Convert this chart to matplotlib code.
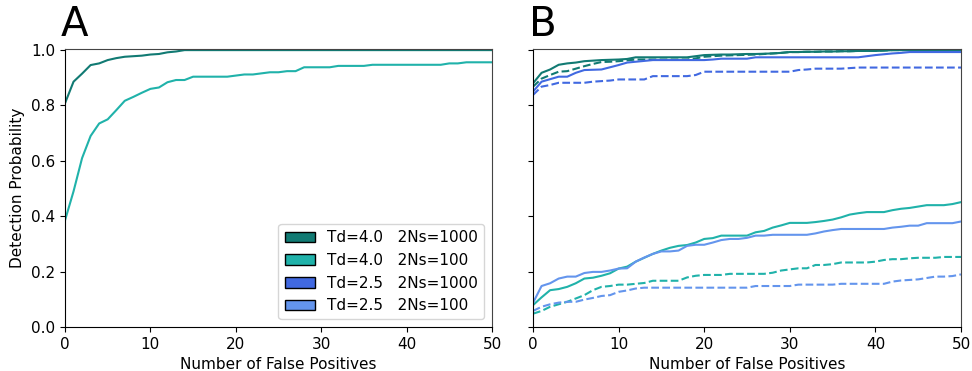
import numpy as np
import matplotlib
matplotlib.use("Agg")
import matplotlib.pyplot as plt
from matplotlib.patches import Patch

x = np.arange(51)

# Panel A
a_td4_1000 = [0.808, 0.886, 0.915, 0.946, 0.952, 0.964, 0.971, 0.976, 0.978, 0.980,
              0.984, 0.986, 0.992, 0.995] + [1.0] * 37
a_td4_100 = [0.385, 0.49, 0.61, 0.69, 0.735, 0.75, 0.783, 0.817, 0.831, 0.846,
             0.860, 0.865, 0.884, 0.892, 0.892, 0.904, 0.904, 0.904, 0.904, 0.904,
             0.908, 0.912, 0.912, 0.916, 0.920, 0.920, 0.924, 0.924, 0.938, 0.938,
             0.938, 0.938, 0.943, 0.943, 0.943, 0.943, 0.947, 0.947, 0.947, 0.947,
             0.947, 0.947, 0.947, 0.947, 0.947, 0.952, 0.952, 0.956, 0.956, 0.956, 0.956]

# Panel B - solid
b_td4_1000_s = [0.880, 0.918, 0.930, 0.947, 0.952, 0.955, 0.960, 0.962, 0.964, 0.965,
                0.966, 0.968, 0.974, 0.974, 0.974, 0.974, 0.974, 0.974, 0.974, 0.978,
                0.982, 0.983, 0.984, 0.984, 0.985, 0.986, 0.986, 0.987, 0.988, 0.990,
                0.993, 0.993, 0.994, 0.994, 0.995, 0.995, 0.996, 0.996, 0.997, 0.997,
                0.997, 0.998, 1.0, 1.0, 1.0, 1.0, 1.0, 1.0, 1.0, 1.0, 1.0]
b_td25_1000_s = [0.850, 0.886, 0.895, 0.904, 0.904, 0.918, 0.928, 0.929, 0.930, 0.938,
                 0.946, 0.955, 0.958, 0.961, 0.964, 0.964, 0.964, 0.964, 0.964, 0.964,
                 0.964, 0.966, 0.969, 0.969, 0.969, 0.969, 0.974, 0.974, 0.974, 0.974,
                 0.974, 0.974, 0.974, 0.974, 0.974, 0.974, 0.974, 0.974, 0.974, 0.978,
                 0.982, 0.985, 0.988, 0.990, 0.993, 0.993, 0.993, 0.993, 0.993, 0.993, 0.993]
b_td4_100_s = [0.079, 0.107, 0.133, 0.137, 0.145, 0.158, 0.175, 0.178, 0.185, 0.194,
               0.211, 0.218, 0.236, 0.250, 0.264, 0.276, 0.286, 0.293, 0.296, 0.305,
               0.318, 0.321, 0.330, 0.330, 0.330, 0.330, 0.342, 0.347, 0.359, 0.367,
               0.376, 0.376, 0.376, 0.379, 0.383, 0.388, 0.396, 0.406, 0.411, 0.415,
               0.415, 0.415, 0.422, 0.427, 0.430, 0.435, 0.440, 0.440, 0.440, 0.444, 0.451]
b_td25_100_s = [0.087, 0.148, 0.158, 0.175, 0.182, 0.182, 0.195, 0.199, 0.199, 0.204,
                0.211, 0.212, 0.236, 0.251, 0.264, 0.273, 0.273, 0.276, 0.293, 0.297,
                0.297, 0.305, 0.314, 0.318, 0.318, 0.322, 0.330, 0.330, 0.333, 0.333,
                0.333, 0.333, 0.333, 0.338, 0.345, 0.350, 0.354, 0.354, 0.354, 0.354,
                0.354, 0.354, 0.359, 0.362, 0.366, 0.366, 0.375, 0.375, 0.375, 0.375, 0.381]

# Panel B - dashed
b_td4_1000_d = [0.868, 0.897, 0.910, 0.922, 0.924, 0.933, 0.942, 0.950, 0.957, 0.958,
                0.960, 0.963, 0.966, 0.966, 0.966, 0.966, 0.966, 0.966, 0.966, 0.970,
                0.976, 0.978, 0.980, 0.981, 0.982, 0.983, 0.984, 0.986, 0.988, 0.990,
                0.993, 0.993, 0.994, 0.994, 0.995, 0.995, 0.996, 0.996, 0.997, 0.997,
                0.998, 0.999, 1.0, 1.0, 1.0, 1.0, 1.0, 1.0, 1.0, 1.0, 1.0]
b_td25_1000_d = [0.838, 0.868, 0.874, 0.882, 0.882, 0.882, 0.882, 0.886, 0.888, 0.890,
                 0.894, 0.894, 0.894, 0.894, 0.906, 0.906, 0.906, 0.906, 0.906, 0.910,
                 0.922, 0.922, 0.922, 0.922, 0.922, 0.922, 0.922, 0.922, 0.922, 0.922,
                 0.922, 0.928, 0.930, 0.933, 0.933, 0.933, 0.933, 0.935, 0.937, 0.937,
                 0.937, 0.937, 0.937, 0.937, 0.937, 0.937, 0.937, 0.937, 0.937, 0.937, 0.937]
b_td4_100_d = [0.048, 0.058, 0.073, 0.082, 0.091, 0.103, 0.115, 0.133, 0.145, 0.148,
               0.153, 0.153, 0.156, 0.159, 0.167, 0.167, 0.167, 0.167, 0.179, 0.185,
               0.188, 0.188, 0.188, 0.192, 0.192, 0.192, 0.192, 0.192, 0.196, 0.204,
               0.208, 0.212, 0.212, 0.224, 0.224, 0.227, 0.233, 0.233, 0.233, 0.233,
               0.236, 0.242, 0.245, 0.245, 0.248, 0.250, 0.250, 0.250, 0.253, 0.253, 0.253]
b_td25_100_d = [0.058, 0.073, 0.082, 0.088, 0.091, 0.091, 0.099, 0.105, 0.112, 0.115,
                0.127, 0.132, 0.139, 0.142, 0.142, 0.142, 0.142, 0.142, 0.142, 0.142,
                0.142, 0.142, 0.142, 0.142, 0.142, 0.142, 0.148, 0.148, 0.148, 0.148,
                0.148, 0.153, 0.153, 0.153, 0.153, 0.153, 0.156, 0.156, 0.156, 0.156,
                0.156, 0.156, 0.164, 0.168, 0.170, 0.172, 0.177, 0.182, 0.182, 0.184, 0.190]

labels = ["Td=4.0   2Ns=1000", "Td=4.0   2Ns=100", "Td=2.5   2Ns=1000", "Td=2.5   2Ns=100"]
colors = ["#117a73", "#20b2aa", "#4169e1", "#6495ed"]

fig = plt.figure(figsize=(9.72, 3.71), dpi=100)
axA = fig.add_axes([65/972, 1-327/371, 427/972, 278/371])
axB = fig.add_axes([533/972, 1-327/371, 428/972, 278/371])

lw = 1.5
axA.plot(x, a_td4_1000, color=colors[0], lw=lw)
axA.plot(x, a_td4_100, color=colors[1], lw=lw)

axB.plot(x, b_td4_1000_s, color=colors[0], lw=lw)
axB.plot(x, b_td4_1000_d, color=colors[0], lw=lw, ls="--")
axB.plot(x, b_td25_1000_s, color=colors[2], lw=lw)
axB.plot(x, b_td25_1000_d, color=colors[2], lw=lw, ls="--")
axB.plot(x, b_td4_100_s, color=colors[1], lw=lw)
axB.plot(x, b_td4_100_d, color=colors[1], lw=lw, ls="--")
axB.plot(x, b_td25_100_s, color=colors[3], lw=lw)
axB.plot(x, b_td25_100_d, color=colors[3], lw=lw, ls="--")

for ax in (axA, axB):
    ax.set_xlim(0, 50)
    ax.set_ylim(0, 1.004)
    ax.set_xticks([0, 10, 20, 30, 40, 50])
    ax.set_yticks([0.0, 0.2, 0.4, 0.6, 0.8, 1.0])
    ax.tick_params(labelsize=11)
    ax.set_xlabel("Number of False Positives", fontsize=11)
    for s in ("top", "right"):
        ax.spines[s].set_color("#444444")

axB.set_yticklabels([])
axA.set_ylabel("Detection Probability", fontsize=11)

axA.text(-0.01, 1.015, "A", transform=axA.transAxes, fontsize=29, ha="left", va="bottom")
axB.text(-0.01, 1.015, "B", transform=axB.transAxes, fontsize=29, ha="left", va="bottom")

handles = [Patch(facecolor=c, edgecolor="black", label=l) for c, l in zip(colors, labels)]
axA.legend(handles=handles, loc="lower right", fontsize=11)

fig.savefig("out.png", dpi=100)
